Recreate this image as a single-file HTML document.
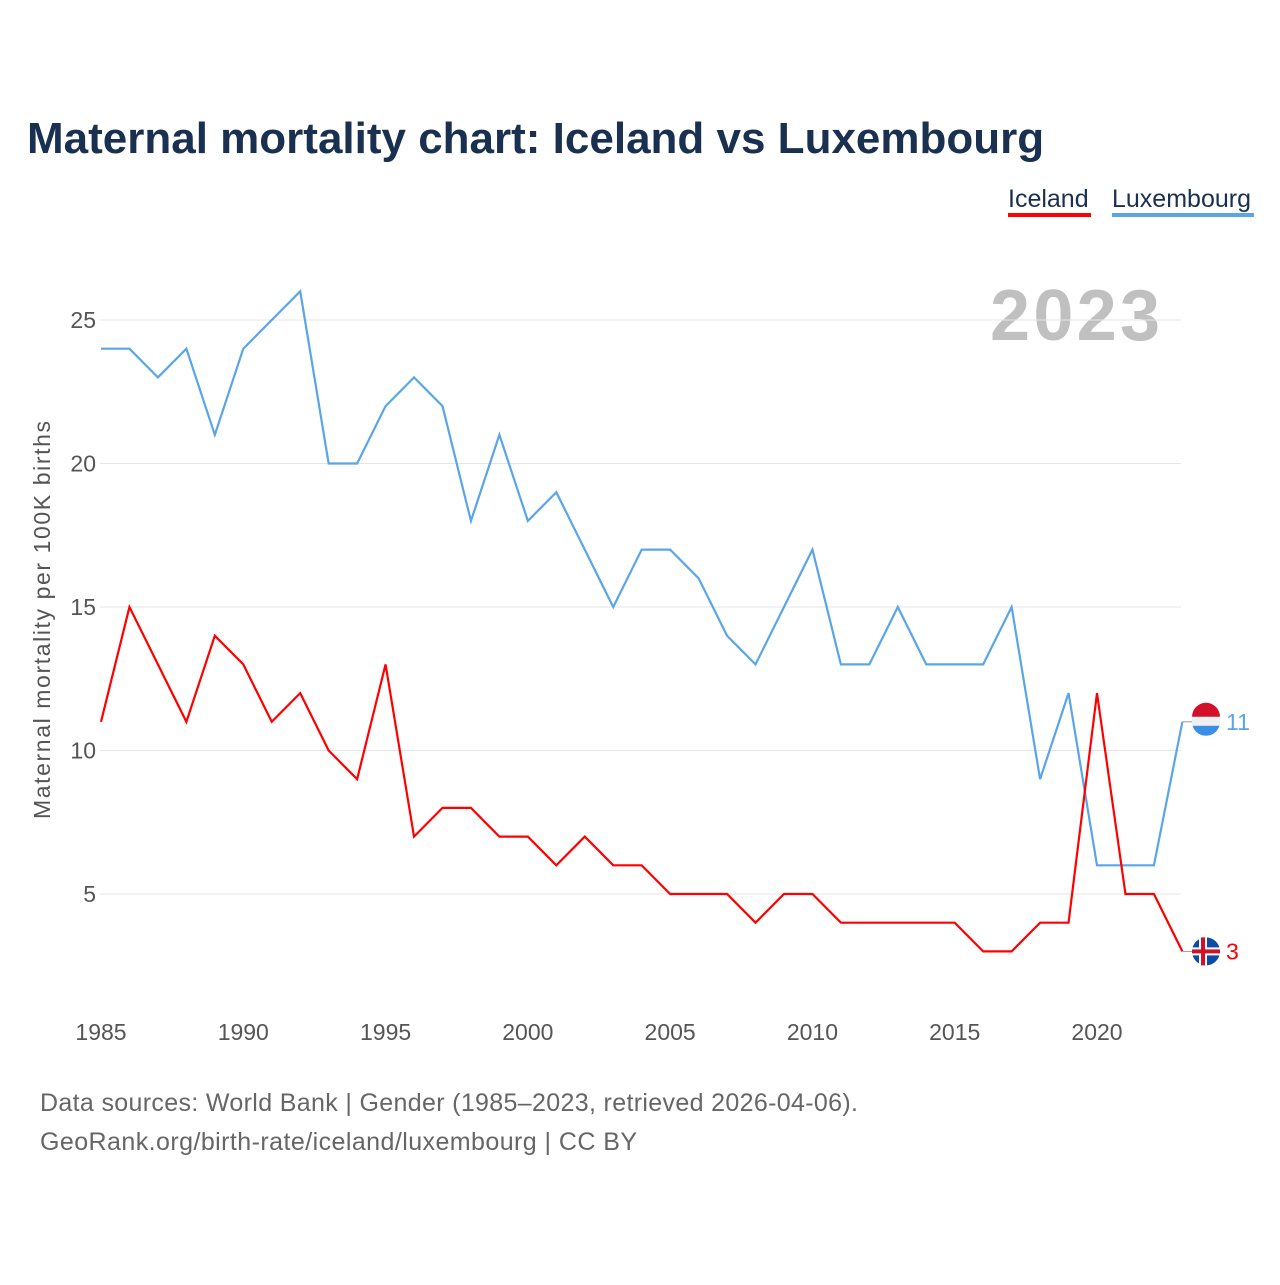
<!DOCTYPE html>
<html><head><meta charset="utf-8"><style>
body{margin:0;background:#fff;font-family:"Liberation Sans",sans-serif}
</style></head><body>
<svg width="1280" height="1280" xmlns="http://www.w3.org/2000/svg" id="svg">
<rect width="1280" height="1280" fill="#fff"/>
<text x="27" y="153" font-size="44" font-weight="bold" fill="#1a3050">Maternal mortality chart: Iceland vs Luxembourg</text>
<g>
<text x="1008" y="207" font-size="25" fill="#1a3050">Iceland</text>
<rect x="1008" y="213" width="83" height="4" fill="#ff0000"/>
<text x="1112" y="207" font-size="25" fill="#1a3050">Luxembourg</text>
<rect x="1112" y="213" width="142" height="4" fill="#5aa5e8"/>
</g>
<text x="1160" y="340" font-size="72" font-weight="bold" fill="#c0c0c0" text-anchor="end" textLength="170">2023</text>
<g id="grid"></g><g id="xt"></g><g id="lines"></g>
<text transform="translate(50,620) rotate(-90)" font-size="23" fill="#555" text-anchor="middle" textLength="398">Maternal mortality per 100K births</text>
<text x="40" y="1111" font-size="25" fill="#666" textLength="818">Data sources: World Bank | Gender (1985–2023, retrieved 2026-04-06).</text>
<text x="40" y="1150" font-size="25" fill="#666" textLength="597">GeoRank.org/birth-rate/iceland/luxembourg | CC BY</text>
</svg>
<script>
const years=[];for(let y=1985;y<=2023;y++)years.push(y);
const luxembourg=[24,24,23,24,21,24,25,26,20,20,22,23,22,18,21,18,19,17,15,17,17,16,14,13,15,17,13,13,15,13,13,13,15,9,12,6,6,6,11];
const iceland=[11,15,13,11,14,13,11,12,10,9,13,7,8,8,7,7,6,7,6,6,5,5,5,4,5,5,4,4,4,4,4,3,3,4,4,12,5,5,3];
const yTicks=[5,10,15,20,25];
const xTicks=[1985,1990,1995,2000,2005,2010,2015,2020];
const X=y=>101+(y-1985)*996/35, Y=v=>1037.5-v*28.7;
const NS='http://www.w3.org/2000/svg';
function mk(t,a,p){const e=document.createElementNS(NS,t);for(const k in a)e.setAttribute(k,a[k]);p.appendChild(e);return e;}
const g=document.getElementById('grid');
yTicks.forEach(v=>{const l=mk('line',{x1:100,x2:1181,y1:Y(v),y2:Y(v),stroke:'#e6e6e6'},g);


const t=mk('text',{x:96,y:Y(v)+8,'font-size':23,fill:'#555','text-anchor':'end'},g);t.textContent=v;

});
const xt=document.getElementById('xt');
xTicks.forEach(v=>{const t=mk('text',{x:X(v),y:1040,'font-size':23,fill:'#555','text-anchor':'middle'},xt);t.textContent=v;

});
const L=document.getElementById('lines');
[[luxembourg,'#5aa5e8','luxembourg'],[iceland,'#ff0000','iceland']].forEach(([d,c,n])=>{
const p=mk('polyline',{points:d.map((v,i)=>X(years[i])+','+Y(v)).join(' '),fill:'none',stroke:c,'stroke-width':2.2},L);


const lx=X(2023),ly=Y(d[d.length-1]);
mk('line',{x1:lx,x2:lx+12,y1:ly,y2:ly,stroke:'#999'},L);
const f=mk('g',{},L);


if(n==='luxembourg'){mk('circle',{cx:1206,cy:ly,r:14,fill:'#3a8ee6'},f);mk('path',{d:`M1192 ${ly-5} A14 14 0 0 1 1220 ${ly-5} Z`,fill:'#d3102a'},f);mk('rect',{x:1192,y:ly-5,width:28,height:9,fill:'#f0f0f0'},f);}
else{mk('circle',{cx:1206,cy:ly,r:14,fill:'#0b4aa8'},f);mk('rect',{x:1192,y:ly-4,width:28,height:8,fill:'#fff'},f);mk('rect',{x:1199,y:ly-14,width:8,height:28,fill:'#fff'},f);mk('rect',{x:1192,y:ly-2,width:28,height:4,fill:'#d3102a'},f);mk('rect',{x:1201,y:ly-14,width:4,height:28,fill:'#d3102a'},f);}
const t=mk('text',{x:1226,y:ly+8,'font-size':23,fill:c},L);t.textContent=d[d.length-1];


});
</script>
</body></html>
